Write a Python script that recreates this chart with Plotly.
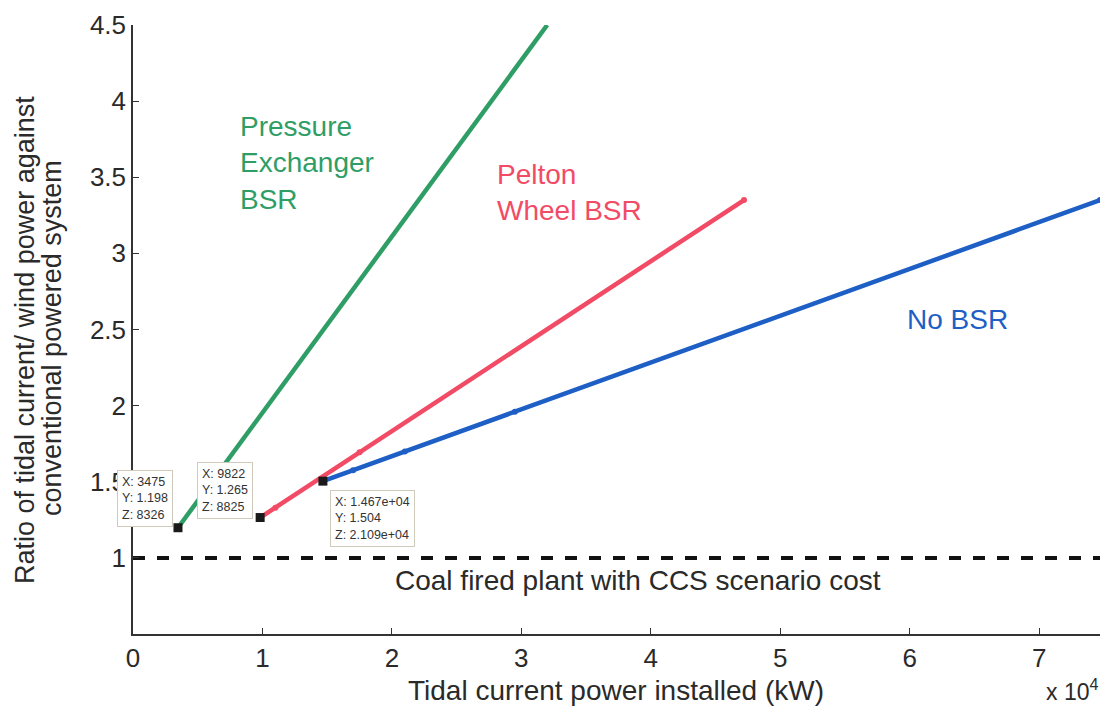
import plotly.graph_objects as go

# series
green_x = [3475, 32000]
green_y = [1.198, 4.5]
red_x = [9822, 11000, 17500, 47200]
red_y = [1.265, 1.33, 1.693, 3.35]
blue_x = [14670, 17000, 21000, 29500, 74700]
blue_y = [1.504, 1.576, 1.699, 1.96, 3.35]
ccs_x = [0, 74700]
ccs_y = [1, 1]

tip_x = [3475, 9822, 14670]
tip_y = [1.198, 1.265, 1.504]
tip_text = ["X: 3475<br>Y: 1.198<br>Z: 8326",
            "X: 9822<br>Y: 1.265<br>Z: 8825",
            "X: 1.467e+04<br>Y: 1.504<br>Z: 2.109e+04"]

x_ticks = [0, 10000, 20000, 30000, 40000, 50000, 60000, 70000]
x_labels = ["0", "1", "2", "3", "4", "5", "6", "7"]
y_ticks = [1, 1.5, 2, 2.5, 3, 3.5, 4, 4.5]
y_labels = ["1", "1.5", "2", "2.5", "3", "3.5", "4", "4.5"]

GREEN = "#2f9e66"
RED = "#f24b66"
BLUE = "#1e5fc6"
FONT = "Liberation Sans, Arial, sans-serif"
TXT = "#2a2a2a"

# page puts the figure 8px in from the corner, so size the figure to fit
OFF = 8
W, H = 1108 - OFF, 715 - OFF
L, R, T, B = 133 - OFF, 8, 25 - OFF, 81
pw, ph = W - L - R, H - T - B

fig = go.Figure()

fig.add_trace(go.Scatter(x=ccs_x, y=ccs_y, mode="lines",
                         line=dict(color="#111111", width=4, dash="dash")))
fig.add_trace(go.Scatter(x=green_x, y=green_y, mode="lines",
                         line=dict(color=GREEN, width=4.5)))
fig.add_trace(go.Scatter(x=red_x, y=red_y, mode="lines+markers",
                         line=dict(color=RED, width=4.5),
                         marker=dict(color=RED, size=6)))
fig.add_trace(go.Scatter(x=blue_x, y=blue_y, mode="lines+markers",
                         line=dict(color=BLUE, width=4.5),
                         marker=dict(color=BLUE, size=6)))
fig.add_trace(go.Scatter(x=tip_x, y=tip_y, mode="markers",
                         marker=dict(color="#1a1a1a", size=9, symbol="square")))

# data tip boxes
tip_pos = [(3089, 1.578, "right"), (4942, 1.63, "left"), (15210, 1.446, "left")]
for (px, py, anc), txt in zip(tip_pos, tip_text):
    fig.add_annotation(x=px, y=py, xref="x", yref="y", text=txt,
                       showarrow=False, xanchor=anc, yanchor="top", align="left",
                       font=dict(family=FONT, size=12.5, color="#333333"),
                       bgcolor="white", bordercolor="#cfcabb", borderwidth=1,
                       borderpad=4)

labels = [
    (8108, 3.594, "Pressure<br>Exchanger<br>BSR", GREEN),
    (27950, 3.403, "Pelton<br>Wheel BSR", RED),
    (59600, 2.563, "No BSR", BLUE),
]
for lx, ly, txt, col in labels:
    fig.add_annotation(x=lx, y=ly, xref="x", yref="y", text=txt, showarrow=False,
                       xanchor="left", yanchor="middle", align="left",
                       font=dict(family=FONT, size=28, color=col))

fig.add_annotation(x=39000, y=0.849, xref="x", yref="y",
                   text="Coal fired plant with CCS scenario cost", showarrow=False,
                   font=dict(family=FONT, size=28, color=TXT))


def px_to_paper(sx, sy):
    return (sx - OFF - L) / pw, 1 - (sy - OFF - T) / ph


# axis titles placed by screen pixel, like the reference
titles = [
    (616, 690, "Tidal current power installed (kW)", 0, "center", 28),
    (1100, 690, "x 10<sup>4</sup>", 0, "right", 23),
    (25, 340, "Ratio of tidal current/ wind power against", -90, "center", 27),
    (52, 338, "conventional powered system", -90, "center", 27),
]
for sx, sy, txt, ang, anc, size in titles:
    ax, ay = px_to_paper(sx, sy)
    fig.add_annotation(x=ax, y=ay, xref="paper", yref="paper", text=txt,
                       showarrow=False, textangle=ang, xanchor=anc, yanchor="middle",
                       font=dict(family=FONT, size=size, color=TXT))

fig.update_layout(
    width=W, height=H,
    margin=dict(l=L, r=R, t=T, b=B),
    paper_bgcolor="white", plot_bgcolor="white",
    showlegend=False,
    font=dict(family=FONT, color=TXT),
    xaxis=dict(range=[0, 74700], tickvals=x_ticks, ticktext=x_labels,
               automargin=False,
               showgrid=False, zeroline=False, showline=True, linecolor="#333333",
               linewidth=1.5, ticks="inside", ticklen=6, tickcolor="#333333",
               tickfont=dict(size=26, family=FONT)),
    yaxis=dict(range=[0.5, 4.5], tickvals=y_ticks, ticktext=y_labels,
               automargin=False,
               showgrid=False, zeroline=False, showline=True, linecolor="#333333",
               linewidth=1.5, ticks="inside", ticklen=6, tickcolor="#333333",
               tickfont=dict(size=26, family=FONT)),
)

fig.write_html("out.html")
